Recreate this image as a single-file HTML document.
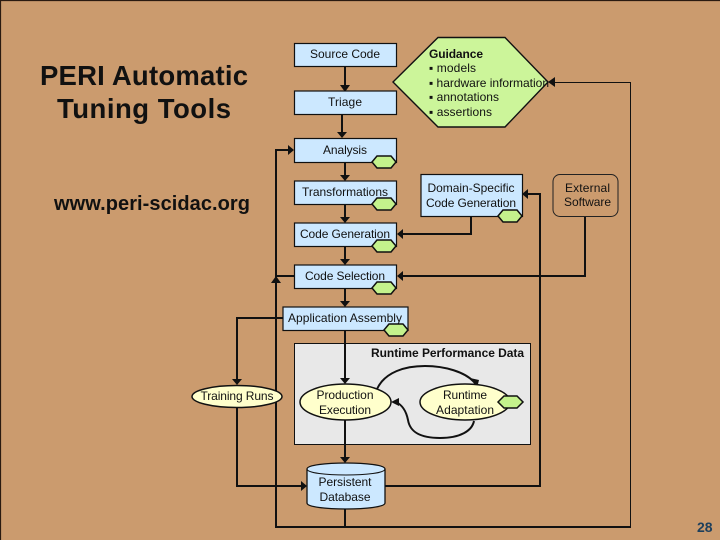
<!DOCTYPE html>
<html><head><meta charset="utf-8"><style>
html,body{margin:0;padding:0;background:#cb9b6e}
svg{display:block}
text{font-family:"Liberation Sans",Arial,sans-serif;fill:#111}
.t{font-size:12px;text-anchor:middle}
.l{stroke:#111;stroke-width:2;fill:none}
.b{fill:#cce8ff;stroke:#111;stroke-width:1.2}
.h{fill:#c4f28c;stroke:#111;stroke-width:1.5}
.e{fill:#ffffcc;stroke:#111;stroke-width:1.5}
.a{fill:#111}
</style></head><body>
<svg width="720" height="540" viewBox="0 0 720 540" xmlns="http://www.w3.org/2000/svg">
<rect width="720" height="540" fill="#cb9b6e"/>
<path d="M0.5 540V0.5H720" fill="none" stroke="#2a1a10" stroke-width="1.2"/>

<text x="40" y="85" font-size="27.5" font-weight="bold" textLength="208" lengthAdjust="spacing">PERI Automatic</text>
<text x="57" y="118" font-size="27.5" font-weight="bold" textLength="174" lengthAdjust="spacing">Tuning Tools</text>
<text x="54" y="210" font-size="20" font-weight="bold" textLength="196" lengthAdjust="spacing">www.peri-scidac.org</text>

<rect x="294.5" y="343.5" width="236" height="101" fill="#e8e8e8" stroke="#111" stroke-width="1"/>

<path class="l" d="M345 66V85"/>
<path class="l" d="M342 114V132"/>
<path class="l" d="M345 162V175"/>
<path class="l" d="M345 204V217"/>
<path class="l" d="M345 246V259"/>
<path class="l" d="M345 288V301"/>
<path class="l" d="M345 330V378"/>
<path class="l" d="M345 420V457"/>
<path class="l" d="M345 509V527"/>
<path class="l" d="M294 276H276M276 527V150H288"/>
<path class="l" d="M283 318H237V379"/>
<path class="l" d="M237 408V486H301"/>
<path class="l" d="M385 486H540V194H528"/>
<path class="l" d="M471 216V234H402"/>
<path class="l" d="M585 216V276H402"/>
<path class="l" d="M275 527H630"/>
<path d="M630.5 528V82.5H555" stroke="#111" stroke-width="1" fill="none"/>

<g class="a">
<path d="M340 85h10l-5 7z"/>
<path d="M337 132h10l-5 6z"/>
<path d="M340 175h10l-5 6z"/>
<path d="M340 217h10l-5 6z"/>
<path d="M340 259h10l-5 6z"/>
<path d="M340 301h10l-5 6z"/>
<path d="M340 378h10l-5 6z"/>
<path d="M340 457h10l-5 6z"/>
<path d="M232 379h10l-5 6z"/>
<path d="M288 145v10l6-5z"/>
<path d="M301 481v10l6-5z"/>
<path d="M528 189v10l-6-5z"/>
<path d="M403 229v10l-6-5z"/>
<path d="M403 271v10l-6-5z"/>
<path d="M555 77v10l-7-5z"/>
<path d="M271 283h10l-5-7z"/>
</g>

<rect class="b" x="294.5" y="43.5" width="102" height="23"/>
<text class="t" x="345" y="58" textLength="70">Source Code</text>
<rect class="b" x="294.5" y="91" width="102" height="23.5"/>
<text class="t" x="345" y="106" textLength="34">Triage</text>
<rect class="b" x="294.5" y="138.5" width="102" height="24"/>
<text class="t" x="345" y="154" textLength="44">Analysis</text>
<rect class="b" x="294.5" y="181" width="102" height="23.5"/>
<text class="t" x="345" y="196" textLength="86">Transformations</text>
<rect class="b" x="294.5" y="223" width="102" height="23.5"/>
<text class="t" x="345" y="238" textLength="90">Code Generation</text>
<rect class="b" x="294.5" y="265" width="102" height="23.5"/>
<text class="t" x="345" y="280" textLength="80">Code Selection</text>
<rect class="b" x="283" y="307" width="125" height="23.5"/>
<text class="t" x="345" y="322" textLength="114">Application Assembly</text>

<rect class="b" x="421" y="174.5" width="101.5" height="42"/>
<text class="t" x="471" y="192" textLength="87">Domain-Specific</text>
<text class="t" x="471" y="207" textLength="90">Code Generation</text>

<rect x="553" y="174.5" width="65" height="42" rx="7" fill="none" stroke="#222" stroke-width="1"/>
<text class="t" x="587.5" y="192" textLength="45">External</text>
<text class="t" x="587.5" y="206" textLength="47">Software</text>

<path d="M393 82L438 37.5H505L548 82L505 127H438Z" fill="#ccf59a" stroke="#111" stroke-width="1.4"/>
<text x="429" y="58" font-size="12" font-weight="bold" textLength="54">Guidance</text>
<text x="429" y="72" font-size="12" textLength="47">▪ models</text>
<text x="429" y="87" font-size="12" textLength="120">▪ hardware information</text>
<text x="429" y="101" font-size="12" textLength="70">▪ annotations</text>
<text x="429" y="116" font-size="12" textLength="63">▪ assertions</text>

<g class="h">
<path d="M372 204l5-6h14l5 6-5 6h-14z"/>
<path d="M372 162l5 -6h14l5 6-5 6h-14z"/>
<path d="M372 246l5-6h14l5 6-5 6h-14z"/>
<path d="M372 288l5-6h14l5 6-5 6h-14z"/>
<path d="M384 330l5-6h14l5 6-5 6h-14z"/>
<path d="M498 216l5-6h14l5 6-5 6h-14z"/>
</g>

<ellipse class="e" cx="237" cy="396.5" rx="45" ry="11"/>
<text class="t" x="237" y="400" textLength="73">Training Runs</text>

<text x="524" y="357" font-size="12" font-weight="bold" text-anchor="end" textLength="153">Runtime Performance Data</text>

<path class="l" d="M377 389C385 372 405 366 425 366C445 366 465 372 474 382" stroke-width="1.8"/>
<path class="a" d="M470 378l9 2-2 8z"/>
<path class="l" d="M474 421C472 431 460 438 440 438C420 438 410 432 408 420C406 410 402 405 396 402" stroke-width="1.8"/>
<path class="a" d="M391 402l8-4 0 8z"/>

<ellipse class="e" cx="345.5" cy="402" rx="45.5" ry="18"/>
<text class="t" x="345" y="399" textLength="57">Production</text>
<text class="t" x="345" y="414" textLength="52">Execution</text>

<ellipse class="e" cx="465" cy="402" rx="45" ry="18"/>
<text class="t" x="465" y="399" textLength="44">Runtime</text>
<text class="t" x="465" y="414" textLength="58">Adaptation</text>
<path class="h" d="M498 402l6-6h13l6 6-6 6h-13z"/>

<path d="M307 469C307 461 385 461 385 469V503C385 511 307 511 307 503Z" fill="#cce8ff" stroke="#111" stroke-width="1.3"/>
<path d="M307 469C307 477 385 477 385 469" fill="none" stroke="#111" stroke-width="1.1"/>
<text class="t" x="345" y="486" textLength="53">Persistent</text>
<text class="t" x="345" y="501" textLength="51">Database</text>

<text x="697" y="532" font-size="14" font-weight="bold" style="fill:#1d3f5c">28</text>
</svg>
</body></html>
